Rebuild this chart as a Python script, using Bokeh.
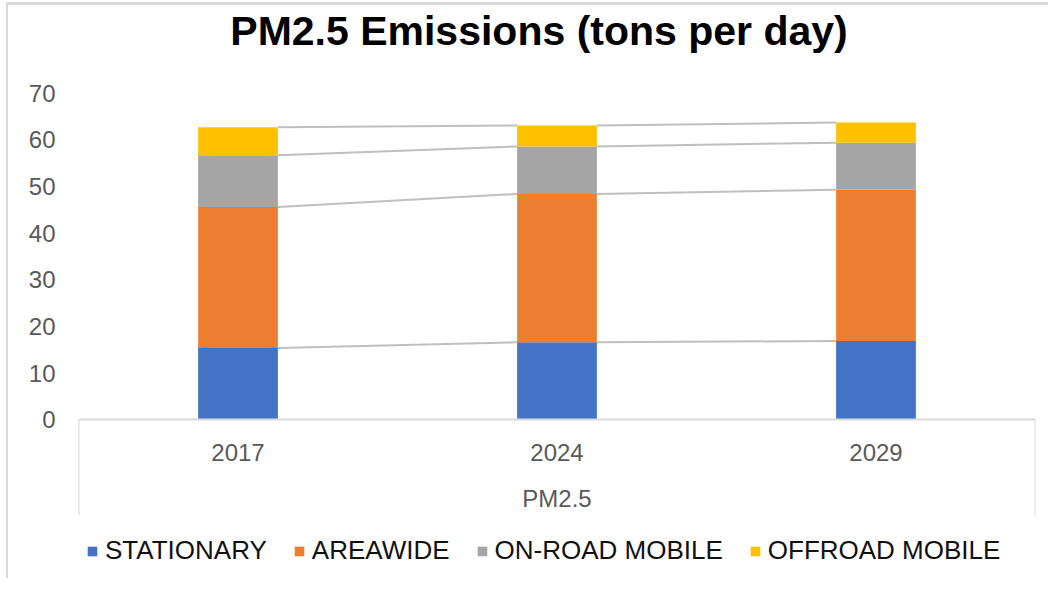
import numpy as np
from bokeh.plotting import figure
from bokeh.models import (Range1d, FixedTicker, Legend, LegendItem, ColumnDataSource,
                          InlineStyleSheet, Label)
from bokeh.embed import file_html
from bokeh.resources import INLINE

# ---- data ----
title_text = "PM2.5 Emissions (tons per day)"
years = ["2017", "2024", "2029"]
group_label = "PM2.5"
series_names = ["STATIONARY", "AREAWIDE", "ON-ROAD MOBILE", "OFFROAD MOBILE"]
stationary = [15.4, 16.6, 16.9]
areawide = [30.2, 31.8, 32.4]
onroad_mobile = [11.1, 10.2, 10.1]
offroad_mobile = [6.0, 4.5, 4.3]
y_ticks = [0, 10, 20, 30, 40, 50, 60, 70]

colors = ["#4472C4", "#ED7D31", "#A5A5A5", "#FFC000"]
series_values = [stationary, areawide, onroad_mobile, offroad_mobile]
bar_width = 0.25

# ---- layout (pixels inside the canvas) ----
W, H = 1040, 573
frame_left, frame_w = 70, 957
zero_px, top_px = 414.3, 87.7          # canvas y of value 0 and of the axis maximum
y_max = max(y_ticks)
k = (zero_px - top_px) / y_max          # pixels per unit
y_lo = -(H - zero_px) / k
y_hi = y_max + top_px / k

xs = np.arange(len(years)) + 0.5
keys = ["s0", "s1", "s2", "s3"]
src = ColumnDataSource(dict(x=xs, **{kk: v for kk, v in zip(keys, series_values)}))

p = figure(
    width=W, height=H,
    frame_width=frame_w, frame_height=H,
    min_border_left=frame_left, min_border_right=W - frame_left - frame_w,
    min_border_top=0, min_border_bottom=0,
    x_range=Range1d(0, len(years)), y_range=Range1d(y_lo, y_hi),
    output_backend="svg", toolbar_location=None,
)
# chart-area border (top and left edges visible in the reference)
p.stylesheets = [InlineStyleSheet(css=(
    ":host { border-top: 3px solid #d9d9d9; border-left: 2px solid #d9d9d9;"
    " margin-top: 2px; margin-left: 6px; }"
))]
p.outline_line_color = None
p.xgrid.visible = False
p.ygrid.visible = False
p.background_fill_color = "white"
p.border_fill_color = "white"

# title
p.add_layout(Label(
    x=460.5, y=H - 25, x_units="screen", y_units="screen", text=title_text,
    text_font="Liberation Sans", text_font_size="41px", text_font_style="bold",
    text_color="#000000", text_align="center", text_baseline="alphabetic",
))

# series lines (connect the tops of stacked segments between bars)
cum = np.cumsum(np.array(series_values), axis=0)
for level in cum:
    p.segment(x0=xs[:-1] + bar_width / 2, y0=level[:-1],
              x1=xs[1:] - bar_width / 2, y1=level[1:],
              line_color="#BFBFBF", line_width=2)

renderers = p.vbar_stack(keys, x="x", width=bar_width, color=colors, source=src,
                         line_color=None)

# y axis
yax = p.yaxis[0]
yax.ticker = FixedTicker(ticks=y_ticks)
yax.axis_line_color = None
yax.major_tick_line_color = None
yax.minor_tick_line_color = None
yax.major_tick_out = 0
yax.major_tick_in = 0
yax.minor_tick_out = 0
yax.minor_tick_in = 0
yax.major_label_standoff = 23
yax.major_label_text_font = "Liberation Sans"
yax.major_label_text_font_size = "24px"
yax.major_label_text_color = "#595959"

# x axis (categories + group label + divider lines), pinned at y=0
divider_len = 96
xax = p.xaxis[0]
xax.fixed_location = 0
xax.ticker = FixedTicker(ticks=list(xs), minor_ticks=[0, len(years)])
xax.major_label_overrides = {float(x): y for x, y in zip(xs, years)}
xax.major_tick_line_color = None
xax.major_tick_out = 0
xax.major_tick_in = 0
xax.minor_tick_in = 0
xax.minor_tick_out = divider_len
xax.minor_tick_line_color = "#D9D9D9"
xax.minor_tick_line_width = 2
xax.axis_line_color = "#D9D9D9"
xax.axis_line_width = 2
xax.major_label_standoff = 24 - divider_len
xax.major_label_text_font = "Liberation Sans"
xax.major_label_text_font_size = "24px"
xax.major_label_text_color = "#595959"
xax.axis_label = group_label
xax.axis_label_standoff = 21
xax.axis_label_text_font = "Liberation Sans"
xax.axis_label_text_font_size = "24px"
xax.axis_label_text_font_style = "normal"
xax.axis_label_text_color = "#595959"

legend = Legend(
    items=[LegendItem(label=n, renderers=[r]) for n, r in zip(series_names, renderers)],
    orientation="horizontal",
    location=(8, 12),
    label_text_font="Liberation Sans",
    label_text_font_size="26px",
    label_text_color="#111111",
    glyph_width=12, glyph_height=12,
    label_standoff=7, spacing=26,
    border_line_color=None, background_fill_alpha=0,
    padding=0, margin=0,
)
p.add_layout(legend, "center")

open("out.html", "w").write(file_html(p, INLINE))
